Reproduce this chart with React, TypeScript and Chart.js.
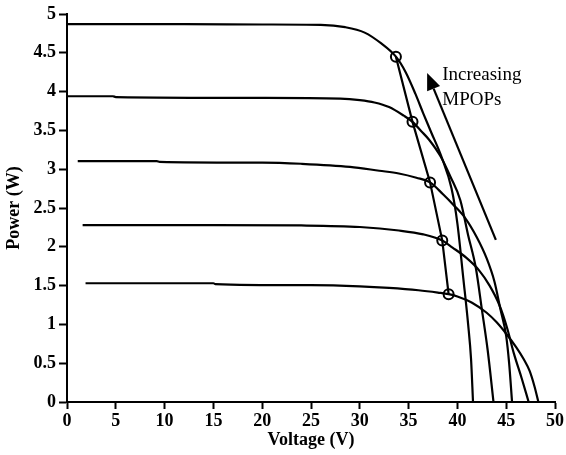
import React, { useEffect, useRef } from "react";
import { Chart, registerables } from "chart.js";

Chart.register(...registerables);

// Power–voltage curves, one per operating condition: [voltage (V), power (W)]
const curve1: [number, number][] = [
  [0, 4.87], [12, 4.87], [20, 4.865], [26, 4.86], [28.5, 4.83], [30.5, 4.76],
  [32.2, 4.62], [33.7, 4.45], [34.7, 4.25], [35.7, 3.97], [36.5, 3.72],
  [37.3, 3.48], [38.4, 3.15], [39.4, 2.75], [40.0, 2.3], [40.6, 1.6],
  [41.1, 1.0], [41.4, 0.55], [41.6, 0],
];
const curve2: [number, number][] = [
  [0, 3.94], [4.7, 3.94], [5, 3.93], [20, 3.92], [28, 3.91], [30, 3.89],
  [31.5, 3.86], [33, 3.8], [34.5, 3.69], [35.4, 3.61], [36.3, 3.49],
  [37.1, 3.38], [38.3, 3.16], [39.3, 2.9], [40.3, 2.6], [41.1, 2.15],
  [41.9, 1.72], [42.5, 1.2], [43.1, 0.67], [43.7, 0],
];
const curve3: [number, number][] = [
  [1.1, 3.105], [9.2, 3.105], [9.5, 3.095], [20, 3.085], [24, 3.07], [29, 3.03],
  [32, 2.98], [34, 2.945], [35.8, 2.89], [37.2, 2.83], [38.5, 2.68],
  [39.6, 2.54], [40.8, 2.37], [42, 2.12], [43, 1.85], [43.8, 1.55],
  [44.4, 1.2], [45, 0.85], [45.3, 0.5], [45.6, 0],
];
const curve4: [number, number][] = [
  [1.6, 2.28], [15, 2.28], [24, 2.275], [30, 2.255], [34, 2.21], [36.5, 2.16],
  [38.45, 2.08], [39.5, 1.99], [40.9, 1.86], [42.2, 1.7], [43.3, 1.5],
  [44.3, 1.25], [45.1, 0.95], [45.8, 0.62], [46.6, 0.3], [47.3, 0],
];
const curve5: [number, number][] = [
  [1.9, 1.53], [15, 1.53], [15.2, 1.52], [25, 1.505], [30, 1.49], [33, 1.47],
  [36, 1.44], [38, 1.41], [39.1, 1.39], [40, 1.36], [41.5, 1.28], [43, 1.15],
  [44, 1.03], [45, 0.88], [46, 0.71], [46.8, 0.55], [47.4, 0.4], [47.9, 0.2],
  [48.3, 0],
];

// Maximum power operating points, one per curve
const mpops: [number, number][] = [
  [33.7, 4.45], [35.4, 3.61], [37.2, 2.83], [38.45, 2.08], [39.1, 1.39],
];

// Trend arrow (tail -> head) and its caption, in data units
const arrowTail: [number, number] = [43.94, 2.09];
const arrowHead: [number, number] = [36.9, 4.24];
const captionLines = ["Increasing", "MPOPs"];
const captionAnchors: [number, number][] = [[38.45, 4.15], [38.45, 3.83]];

// Axis ticks
const xTickValues = [0, 5, 10, 15, 20, 25, 30, 35, 40, 45, 50];
const xTickLabels = ["0", "5", "10", "15", "20", "25", "30", "35", "40", "45", "50"];
const yTickValues = [0, 0.5, 1, 1.5, 2, 2.5, 3, 3.5, 4, 4.5, 5];
const yTickLabels = ["0", "0.5", "1", "1.5", "2", "2.5", "3", "3.5", "4", "4.5", "5"];

const FAMILY = "'Liberation Serif', 'Times New Roman', serif";
const toPoints = (arr: [number, number][]) => arr.map(([x, y]) => ({ x, y }));

const annotationPlugin = {
  id: "mpopAnnotation",
  afterDatasetsDraw(chart: any) {
    const { ctx, scales } = chart;
    const xs = scales.x;
    const ys = scales.y;
    const tx = xs.getPixelForValue(arrowTail[0]);
    const ty = ys.getPixelForValue(arrowTail[1]);
    const hx = xs.getPixelForValue(arrowHead[0]);
    const hy = ys.getPixelForValue(arrowHead[1]);
    const ang = Math.atan2(hy - ty, hx - tx);
    const headLen = 17;
    const headHalf = 7;
    const bx = hx - headLen * Math.cos(ang);
    const by = hy - headLen * Math.sin(ang);

    ctx.save();
    ctx.strokeStyle = "#000";
    ctx.fillStyle = "#000";
    ctx.lineWidth = 2.2;
    ctx.beginPath();
    ctx.moveTo(tx, ty);
    ctx.lineTo(bx, by);
    ctx.stroke();
    ctx.beginPath();
    ctx.moveTo(hx, hy);
    ctx.lineTo(bx + headHalf * Math.sin(ang), by - headHalf * Math.cos(ang));
    ctx.lineTo(bx - headHalf * Math.sin(ang), by + headHalf * Math.cos(ang));
    ctx.closePath();
    ctx.fill();

    ctx.font = `19px ${FAMILY}`;
    ctx.textAlign = "left";
    ctx.textBaseline = "alphabetic";
    captionLines.forEach((t, i) => {
      const [vx, vy] = captionAnchors[i];
      ctx.fillText(t, xs.getPixelForValue(vx), ys.getPixelForValue(vy));
    });
    ctx.restore();
  },
};

export default function App() {
  const canvasRef = useRef<HTMLCanvasElement | null>(null);

  useEffect(() => {
    if (!canvasRef.current) return;
    const curveStyle = {
      showLine: true,
      borderColor: "#000",
      borderWidth: 2.2,
      pointRadius: 0,
      pointHoverRadius: 0,
      cubicInterpolationMode: "monotone" as const,
      fill: false,
    };
    const tickFont = { family: FAMILY, size: 18, weight: "bold" as const };
    const titleFont = { family: FAMILY, size: 18, weight: "bold" as const };

    const chart = new Chart(canvasRef.current, {
      type: "scatter",
      data: {
        datasets: [
          { ...curveStyle, data: toPoints(curve1) },
          { ...curveStyle, data: toPoints(curve2) },
          { ...curveStyle, data: toPoints(curve3) },
          { ...curveStyle, data: toPoints(curve4) },
          { ...curveStyle, data: toPoints(curve5) },
          {
            data: toPoints(mpops),
            showLine: true,
            borderColor: "#000",
            borderWidth: 2.2,
            tension: 0,
            pointRadius: 5,
            pointBorderWidth: 2,
            pointBorderColor: "#000",
            pointBackgroundColor: "rgba(255,255,255,0)",
            pointStyle: "circle",
          },
        ],
      },
      options: {
        responsive: false,
        animation: false,
        events: [],
        layout: { padding: { left: 0, top: 14, right: 10, bottom: 0 } },
        plugins: {
          legend: { display: false },
          tooltip: { enabled: false },
        },
        scales: {
          x: {
            type: "linear",
            min: 0,
            max: 50,
            afterBuildTicks: (s: any) => {
              s.ticks = xTickValues.map((v) => ({ value: v }));
            },
            afterFit: (s: any) => {
              s.height = 53;
            },
            ticks: {
              autoSkip: false,
              maxRotation: 0,
              padding: 2,
              color: "#000",
              font: tickFont,
              callback: (_v: any, i: number) => xTickLabels[i],
            },
            grid: {
              display: true,
              drawOnChartArea: false,
              drawTicks: true,
              tickLength: 7,
              tickWidth: 2,
              tickColor: "#000",
            },
            border: { display: true, color: "#000", width: 2 },
            title: {
              display: true,
              text: "Voltage (V)",
              color: "#000",
              font: titleFont,
              padding: { top: 4, bottom: 4 },
            },
          },
          y: {
            type: "linear",
            min: 0,
            max: 5,
            afterBuildTicks: (s: any) => {
              s.ticks = yTickValues.map((v) => ({ value: v }));
            },
            afterFit: (s: any) => {
              s.width = 67;
            },
            ticks: {
              autoSkip: false,
              padding: 3,
              color: "#000",
              font: tickFont,
              callback: (_v: any, i: number) => yTickLabels[i],
            },
            grid: {
              display: true,
              drawOnChartArea: false,
              drawTicks: true,
              tickLength: 8,
              tickWidth: 2,
              tickColor: "#000",
            },
            border: { display: true, color: "#000", width: 2 },
            title: {
              display: true,
              text: "Power (W)",
              color: "#000",
              font: titleFont,
              padding: { top: 4, bottom: 4 },
            },
          },
        },
      },
      plugins: [annotationPlugin],
    });

    return () => chart.destroy();
  }, []);

  return (
    <div
      style={{
        position: "fixed",
        left: 0,
        top: 0,
        width: 566,
        height: 455,
        background: "#fff",
      }}
    >
      <canvas ref={canvasRef} width={566} height={455} style={{ width: 566, height: 455, display: "block" }} />
    </div>
  );
}
